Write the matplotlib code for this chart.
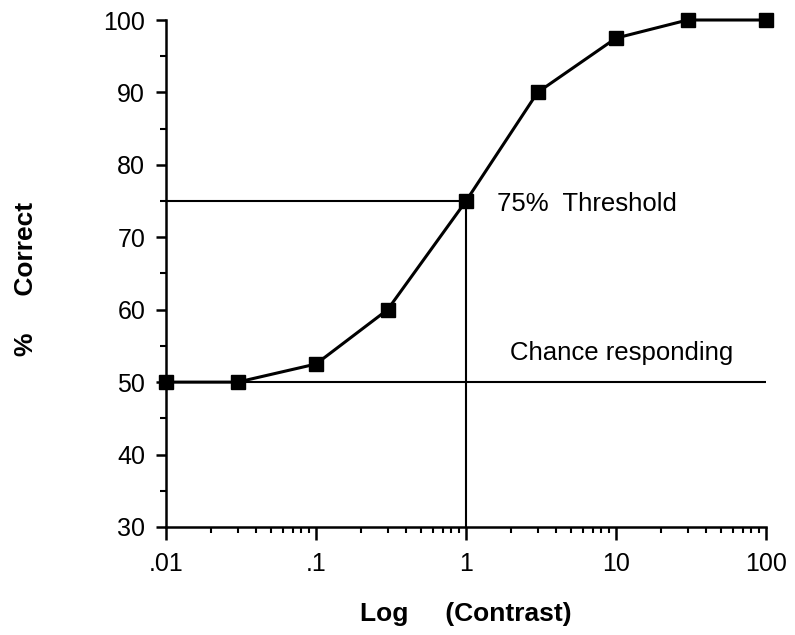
import matplotlib
matplotlib.use("Agg")
import matplotlib.pyplot as plt
from matplotlib.ticker import FixedLocator, LogLocator, MultipleLocator, NullFormatter

plt.rcParams['font.family'] = ['Liberation Sans', 'DejaVu Sans']

contrast = [0.01, 0.03, 0.1, 0.3, 1, 3, 10, 30, 100]
pct_correct = [50, 50, 52.5, 60, 75, 90, 97.5, 100, 100]
x_ticks = [0.01, 0.1, 1, 10, 100]
x_tick_labels = [".01", ".1", "1", "10", "100"]
y_ticks = [30, 40, 50, 60, 70, 80, 90, 100]
threshold = 75
chance = 50
threshold_x = 1

fig = plt.figure(figsize=(7.95, 6.35), dpi=100)
ax = fig.add_axes([0.2088, 0.1701, 0.7547, 0.7984])

ax.plot(contrast, pct_correct, color='black', lw=2.2, marker='s', ms=9.5,
        zorder=3, clip_on=False)
ax.plot([0.01, threshold_x], [threshold, threshold], color='black', lw=1.5)
ax.plot([threshold_x, threshold_x], [30, threshold], color='black', lw=1.5)
ax.plot([0.01, 100], [chance, chance], color='black', lw=1.5)

ax.text(1.61, 73.6, "75%  Threshold", fontsize=18.5, va='baseline', ha='left')
ax.text(1.96, 53.06, "Chance responding", fontsize=18.5, va='baseline', ha='left')

ax.set_xscale('log')
ax.set_xlim(0.01, 100)
ax.set_ylim(30, 100)
ax.xaxis.set_major_locator(FixedLocator(x_ticks))
ax.set_xticklabels(x_tick_labels)
ax.xaxis.set_minor_locator(LogLocator(base=10, subs=range(2, 10)))
ax.xaxis.set_minor_formatter(NullFormatter())
ax.set_yticks(y_ticks)
ax.yaxis.set_minor_locator(MultipleLocator(5))

for s in ['top', 'right']:
    ax.spines[s].set_visible(False)
for s in ['left', 'bottom']:
    ax.spines[s].set_linewidth(1.8)

ax.tick_params(axis='both', which='major', labelsize=18, width=1.8, direction='out')
ax.tick_params(axis='y', which='major', length=7, pad=8)
ax.tick_params(axis='x', which='major', length=9, pad=9)
ax.tick_params(axis='both', which='minor', direction='out', length=4, width=1.5)

ax.set_xlabel("Log     (Contrast)", fontsize=19, fontweight='bold')
ax.xaxis.set_label_coords(0.5, -0.148)
ax.set_ylabel("%     Correct", fontsize=19, fontweight='bold')
ax.yaxis.set_label_coords(-0.213, 0.49)

fig.savefig("out.png", dpi=100)
